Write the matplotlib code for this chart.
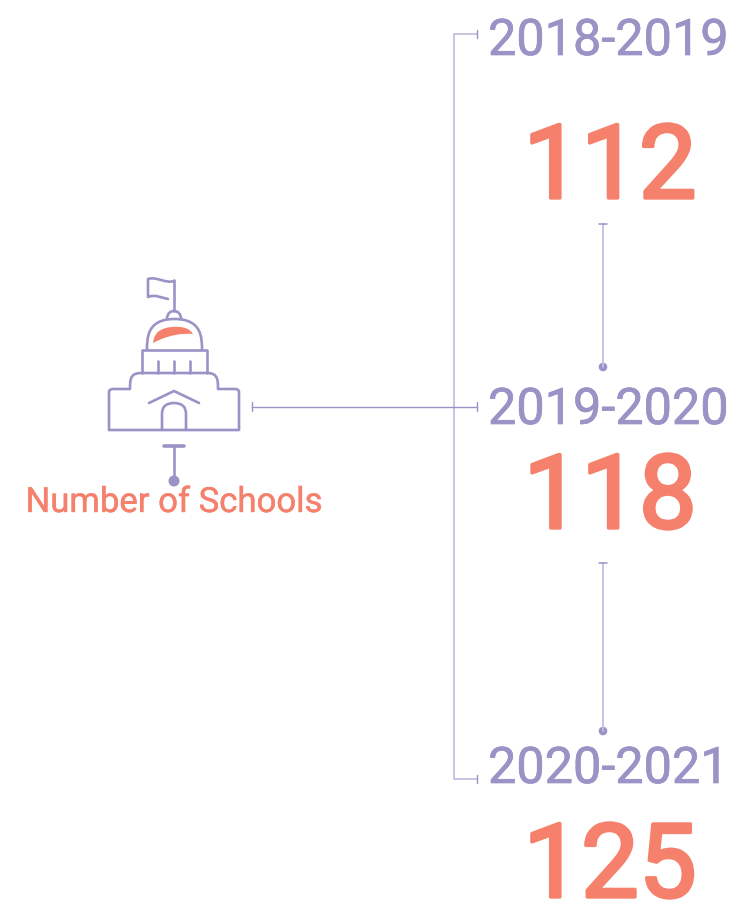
import matplotlib
matplotlib.use("Agg")
import matplotlib.pyplot as plt
import matplotlib.patheffects as pe
from matplotlib.patches import Circle, PathPatch
from matplotlib.path import Path

years = ["2018-2019", "2019-2020", "2020-2021"]
schools = [112, 118, 125]
caption = "Number of Schools"

purple = "#9b93c6"
light = "#c3bfe0"
coral = "#f5806c"

W, H = 733, 902
fig = plt.figure(figsize=(W / 100, H / 100), dpi=100)
ax = fig.add_axes([0, 0, 1, 1])
ax.set_xlim(0, W)
ax.set_ylim(H, 0)
ax.axis("off")

plt.rcParams["font.family"] = ["Roboto", "DejaVu Sans"]

year_base = [55, 424, 783]
num_base = [198, 528, 897]


def line(xs, ys, c=purple, lw=1.0):
    ax.plot(xs, ys, color=c, lw=lw, solid_capstyle="round", solid_joinstyle="round")


def curve(verts, codes, c=purple, lw=1.9):
    ax.add_patch(PathPatch(Path(verts, codes), fc="none", ec=c, lw=lw, capstyle="round", joinstyle="round"))


# labels
for y, n, yb, nb in zip(years, schools, year_base, num_base):
    ax.text(488, yb, y, color=purple, fontsize=36.3, va="baseline", ha="left",
            path_effects=[pe.withStroke(linewidth=0.5, foreground=purple)])
    ax.text(610, nb, str(n), color=coral, fontsize=74, va="baseline", ha="center",
            path_effects=[pe.withStroke(linewidth=2.4, foreground=coral)])
ax.text(174, 512, caption, color=coral, fontsize=25, va="baseline", ha="center",
        path_effects=[pe.withStroke(linewidth=0.3, foreground=coral)])

# big bracket
line([477, 454, 454, 477], [34, 34, 779, 779], c=light, lw=1.3)
line([477, 477], [30, 38], lw=1.0)
line([477, 477], [775, 783], lw=1.0)

# link from icon to the middle year
line([252, 477], [406.5, 406.5], lw=1.0)
line([252, 252], [402, 411], lw=1.0)
line([477, 477], [402, 411], lw=1.0)

# connectors between years
for top, bottom in [(224, 367), (563, 731)]:
    line([603, 603], [top, bottom], c=light, lw=1.3)
    line([599, 607], [top, top], lw=1.1)
    ax.add_patch(Circle((603, bottom), 4.3, fc=purple, ec="none"))

# icon: flag
line([174, 174], [280, 311], lw=1.9)
curve([(174, 281), (166, 284), (156, 276), (148, 279), (148, 297), (156, 294), (162, 298), (168, 299)],
      [Path.MOVETO, Path.CURVE4, Path.CURVE4, Path.CURVE4, Path.LINETO, Path.CURVE4, Path.CURVE4, Path.CURVE4])

# lantern and dome
curve([(167, 319), (167, 314), (170, 311), (174, 311), (178, 311), (181, 314), (181, 319)],
      [Path.MOVETO, Path.CURVE4, Path.CURVE4, Path.CURVE4, Path.CURVE4, Path.CURVE4, Path.CURVE4])
curve([(147, 350), (147, 338), (147, 319), (174.5, 319), (202, 319), (202, 338), (202, 350)],
      [Path.MOVETO, Path.CURVE4, Path.CURVE4, Path.CURVE4, Path.CURVE4, Path.CURVE4, Path.CURVE4])
ax.add_patch(PathPatch(Path([(153, 343), (154, 333), (160, 328), (172, 327), (184, 326), (190, 329), (193, 334),
                             (182, 333), (168, 335), (153, 343)],
                            [Path.MOVETO, Path.CURVE4, Path.CURVE4, Path.CURVE4, Path.CURVE4, Path.CURVE4, Path.CURVE4,
                             Path.CURVE4, Path.CURVE4, Path.CURVE4]), fc=coral, ec="none"))

# drum
line([142, 142, 207, 207], [373, 350, 350, 373], lw=1.9)
for x in [158, 174, 190]:
    line([x, x], [361, 373], lw=1.9)

# body
curve([(109, 430), (109, 392), (109, 390), (111, 389), (113, 389), (130, 389), (130, 380), (130, 373), (141, 373),
       (207, 373), (218, 373), (218, 380), (218, 389), (235, 389), (237, 389), (239, 390), (239, 392), (239, 430),
       (109, 430)],
      [Path.MOVETO, Path.LINETO, Path.CURVE4, Path.CURVE4, Path.CURVE4, Path.LINETO, Path.CURVE4, Path.CURVE4, Path.CURVE4,
       Path.LINETO, Path.CURVE4, Path.CURVE4, Path.CURVE4, Path.LINETO, Path.CURVE4, Path.CURVE4, Path.CURVE4, Path.LINETO,
       Path.LINETO])

# roof and door
line([149, 174, 199], [403, 391, 403], lw=1.9)
curve([(162, 430), (162, 414), (162, 403), (174, 403), (186, 403), (186, 414), (186, 430)],
      [Path.MOVETO, Path.LINETO, Path.CURVE3, Path.CURVE3, Path.CURVE3, Path.CURVE3, Path.LINETO])

# stem under icon
line([164, 184], [445.5, 445.5], lw=2.6)
line([174, 174], [446, 480], lw=1.9)
ax.add_patch(Circle((174, 481), 5.5, fc=purple, ec="none"))

fig.savefig("out.png", dpi=100, facecolor="white")
